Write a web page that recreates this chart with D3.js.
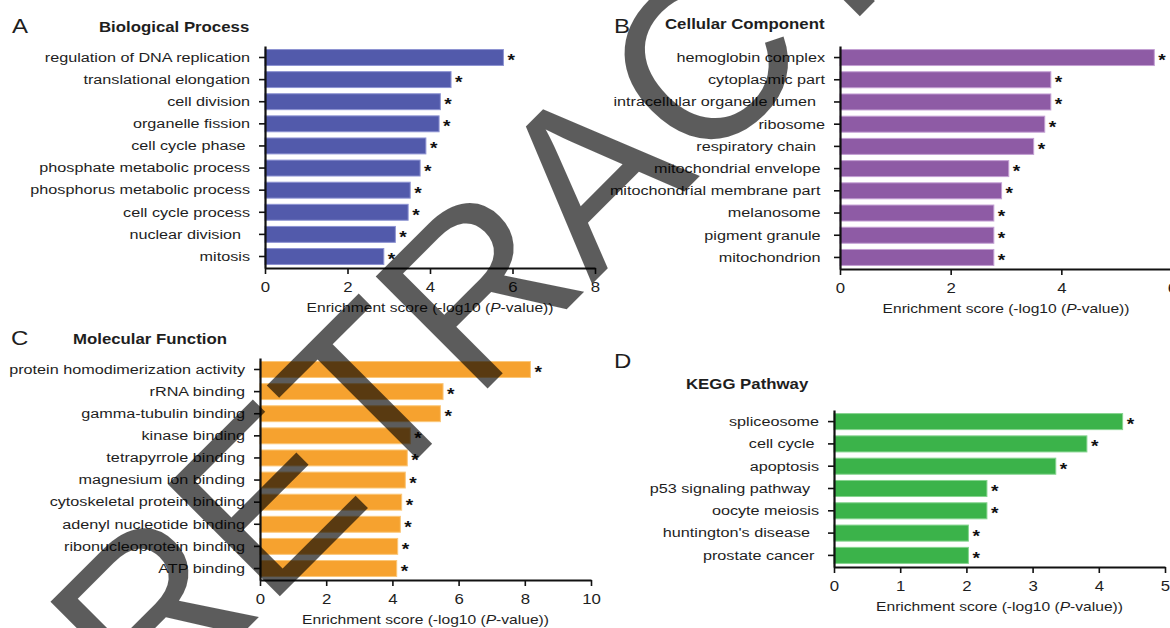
<!DOCTYPE html>
<html>
<head>
<meta charset="utf-8">
<script src="https://cdn.jsdelivr.net/npm/d3@7"></script>
<style>
  html, body { margin: 0; padding: 0; background: #fff; }
  svg { display: block; font-family: "Liberation Sans", Arial, sans-serif; }
</style>
</head>
<body>
<svg id="fig" width="1170" height="628"></svg>
<script>
// ---- data -------------------------------------------------------------
const bpTerms = ["regulation of DNA replication", "translational elongation", "cell division",
  "organelle fission", "cell cycle phase ", "phosphate metabolic process",
  "phosphorus metabolic process", "cell cycle process", "nuclear division  ", "mitosis"];
const bpScores = [5.78, 4.51, 4.25, 4.22, 3.90, 3.76, 3.52, 3.47, 3.16, 2.88];
const bpTicks = [0, 2, 4, 6, 8];

const ccTerms = ["hemoglobin complex", "cytoplasmic part", "intracellular organelle lumen  ",
  "ribosome", "respiratory chain  ", "mitochondrial envelope ", "mitochondrial membrane part ",
  "melanosome ", "pigment granule ", "mitochondrion "];
const ccScores = [5.68, 3.81, 3.81, 3.70, 3.50, 3.05, 2.92, 2.78, 2.78, 2.78];
const ccTicks = [0, 2, 4, 6];

const mfTerms = ["protein homodimerization activity", "rRNA binding", "gamma-tubulin binding",
  "kinase binding", "tetrapyrrole binding", "magnesium ion binding", "cytoskeletal protein binding",
  "adenyl nucleotide binding", "ribonucleoprotein binding", "ATP binding"];
const mfScores = [8.17, 5.53, 5.45, 4.54, 4.45, 4.39, 4.28, 4.24, 4.16, 4.13];
const mfTicks = [0, 2, 4, 6, 8, 10];

const keggTerms = ["spliceosome", "cell cycle ", "apoptosis", "p53 signaling pathway  ",
  "oocyte meiosis", "huntington's disease  ", "prostate cancer "];
const keggScores = [4.36, 3.82, 3.35, 2.31, 2.31, 2.03, 2.03];
const keggTicks = [0, 1, 2, 3, 4, 5];

const panelLetters = ["A", "B", "C", "D"];
const panelTitles = ["Biological Process", "Cellular Component", "Molecular Function", "KEGG Pathway"];
const watermark = "RETRACTED";

// ---- drawing ----------------------------------------------------------
const SX = 1.2;             // horizontal text stretch used throughout the figure
const INK = "#1e1e1e";
const svg = d3.select("#fig");

function stretchedText(parent, x, y, str, size, weight) {
  return parent.append("text")
    .attr("transform", `translate(${x},${y}) scale(${SX},1)`)
    .attr("font-size", size)
    .attr("font-weight", weight || "normal")
    .attr("fill", INK)
    .text(str);
}

function panel(cfg) {
  const g = svg.append("g");
  const x = d3.scaleLinear().domain([0, d3.max(cfg.ticks)]).range([cfg.x0, cfg.x1]);
  const y = d3.scaleBand().domain(cfg.terms).range([cfg.yTop, cfg.yAxis])
    .paddingInner(0.28).paddingOuter(0.16);
  const rows = cfg.terms.map((t, i) => ({ t, v: cfg.scores[i] }));

  // bars
  g.append("g").selectAll("rect").data(rows).join("rect")
    .attr("x", x(0))
    .attr("y", d => y(d.t))
    .attr("width", d => x(d.v) - x(0))
    .attr("height", y.bandwidth())
    .attr("fill", cfg.color)
    .attr("stroke", cfg.edge)
    .attr("stroke-width", 1);

  // significance stars
  g.append("g").selectAll("text").data(rows).join("text")
    .attr("transform", d => `translate(${x(d.v) + 4},${y(d.t) + y.bandwidth() / 2 + 8.5}) scale(${SX},1)`)
    .attr("font-size", 16)
    .attr("font-weight", "bold")
    .attr("fill", "#111")
    .text("*");

  // category axis
  const ya = g.append("g")
    .attr("transform", `translate(${x(0)},0)`)
    .call(d3.axisLeft(y).tickSize(6).tickSizeOuter(0));
  ya.attr("font-size", null).attr("font-family", null);
  ya.select(".domain").attr("stroke", "#111").attr("stroke-width", 2.2);
  ya.selectAll(".tick line").attr("stroke", "#111").attr("stroke-width", 1.6);
  ya.selectAll(".tick text")
    .attr("x", -15 / SX)
    .attr("transform", `scale(${SX},1)`)
    .attr("font-size", 13.5)
    .attr("fill", INK)
    .style("white-space", "pre");

  // value axis
  const xa = g.append("g")
    .attr("transform", `translate(0,${cfg.yAxis})`)
    .call(d3.axisBottom(x).tickValues(cfg.ticks).tickFormat(d3.format("d")).tickSize(6).tickSizeOuter(0));
  xa.attr("font-size", null).attr("font-family", null);
  xa.select(".domain").attr("stroke", "#111").attr("stroke-width", 2.2);
  xa.selectAll(".tick line").attr("stroke", "#111").attr("stroke-width", 1.6);
  xa.selectAll(".tick text")
    .attr("y", 14)
    .attr("transform", `scale(${SX},1)`)
    .attr("font-size", 14)
    .attr("fill", INK);

  // axis title
  const t = g.append("text")
    .attr("transform", `translate(${(cfg.x0 + cfg.x1) / 2},${cfg.yAxis + 44}) scale(${SX},1)`)
    .attr("text-anchor", "middle")
    .attr("font-size", 13)
    .attr("fill", INK);
  t.append("tspan").text("Enrichment score (-log10 (");
  t.append("tspan").attr("font-style", "italic").text("P");
  t.append("tspan").text("-value))");

  // panel letter and heading
  stretchedText(g, cfg.letterPos[0], cfg.letterPos[1], cfg.letter, 20);
  stretchedText(g, cfg.titlePos[0], cfg.titlePos[1], cfg.title, 14, "bold");
}

panel({ terms: bpTerms, scores: bpScores, ticks: bpTicks, color: "#525aab", edge: "#8d93d2",
  x0: 265, x1: 595, yTop: 46, yAxis: 268,
  letter: panelLetters[0], letterPos: [12, 33], title: panelTitles[0], titlePos: [99, 32] });

panel({ terms: ccTerms, scores: ccScores, ticks: ccTicks, color: "#8e5ba5", edge: "#c39fd3",
  x0: 840, x1: 1172, yTop: 46, yAxis: 269,
  letter: panelLetters[1], letterPos: [614, 33], title: panelTitles[1], titlePos: [665, 29] });

panel({ terms: mfTerms, scores: mfScores, ticks: mfTicks, color: "#f6a22f", edge: "#fbc779",
  x0: 260, x1: 591, yTop: 358, yAxis: 580,
  letter: panelLetters[2], letterPos: [11, 345], title: panelTitles[2], titlePos: [73, 344] });

panel({ terms: keggTerms, scores: keggScores, ticks: keggTicks, color: "#3bb34a", edge: "#86d48f",
  x0: 834, x1: 1165, yTop: 410, yAxis: 567,
  letter: panelLetters[3], letterPos: [614, 368], title: panelTitles[3], titlePos: [686, 389] });

// diagonal stamp across the whole figure
svg.append("text")
  .attr("transform", "translate(149,727) rotate(-45)")
  .attr("font-size", 230)
  .attr("fill", "#000")
  .attr("fill-opacity", 0.64)
  .text(watermark);
</script>
</body>
</html>
